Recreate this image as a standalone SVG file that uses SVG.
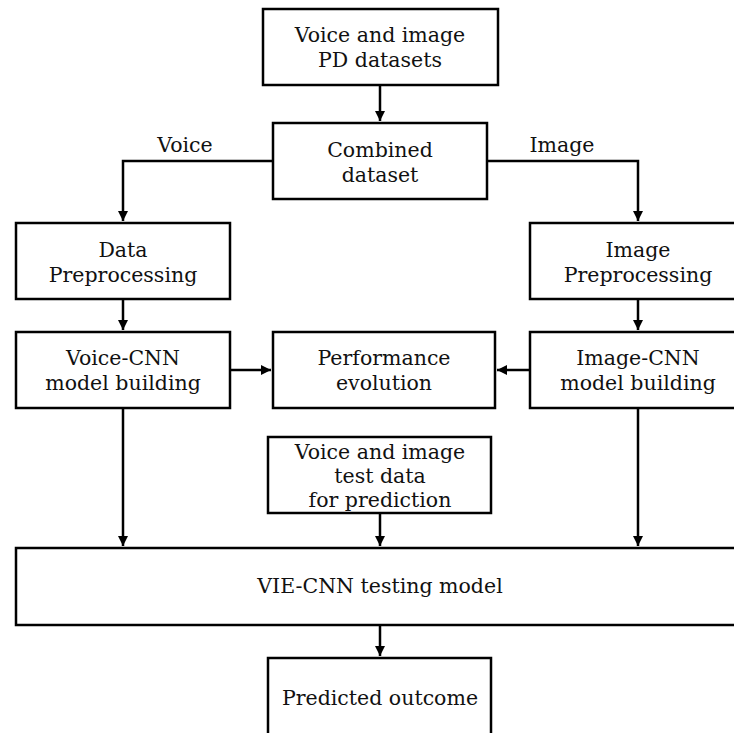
<svg xmlns="http://www.w3.org/2000/svg" width="734" height="733" viewBox="0 0 734 733">
<style>
.n{fill:#fff;stroke:#000;stroke-width:2.5}
text{font-family:'DejaVu Serif','Liberation Serif',serif;font-size:20.5px;fill:#111;text-anchor:middle}
.c{fill:none;stroke:#000;stroke-width:2.5}
</style>
<defs>
<marker id="ah" viewBox="0 0 10 10" refX="10" refY="5" markerWidth="4" markerHeight="4" orient="auto" markerUnits="strokeWidth">
<path d="M0,0 L10,5 L0,10 z" fill="#000"/>
</marker>
</defs>
<rect x="0" y="0" width="734" height="733" fill="#fff"/>
<g id="connectors">
<path class="c" d="M380,85 V121" marker-end="url(#ah)"/>
<path class="c" d="M273,161 H123 V221" marker-end="url(#ah)"/>
<path class="c" d="M487,161 H638 V221" marker-end="url(#ah)"/>
<path class="c" d="M123,299 V330" marker-end="url(#ah)"/>
<path class="c" d="M638,299 V330" marker-end="url(#ah)"/>
<path class="c" d="M230,370 H271" marker-end="url(#ah)"/>
<path class="c" d="M530,370 H497" marker-end="url(#ah)"/>
<path class="c" d="M123,408 V546" marker-end="url(#ah)"/>
<path class="c" d="M638,408 V546" marker-end="url(#ah)"/>
<path class="c" d="M380,513 V546" marker-end="url(#ah)"/>
<path class="c" d="M380,625 V656" marker-end="url(#ah)"/>
<text x="185" y="152">Voice</text>
<text x="562" y="152">Image</text>
</g>
<g id="datasets">
<rect class="n" x="263" y="9" width="235" height="76"/>
<text x="380" y="42">Voice and image</text>
<text x="380" y="67">PD datasets</text>
</g>
<g id="combined">
<rect class="n" x="273" y="123" width="214" height="76"/>
<text x="380" y="157">Combined</text>
<text x="380" y="182">dataset</text>
</g>
<g id="dataprep">
<rect class="n" x="16" y="223" width="214" height="76"/>
<text x="123" y="257">Data</text>
<text x="123" y="282">Preprocessing</text>
</g>
<g id="imageprep">
<rect class="n" x="530" y="223" width="215" height="76"/>
<text x="638" y="257">Image</text>
<text x="638" y="282">Preprocessing</text>
</g>
<g id="voicecnn">
<rect class="n" x="16" y="332" width="214" height="76"/>
<text x="123" y="365">Voice-CNN</text>
<text x="123" y="390">model building</text>
</g>
<g id="performance">
<rect class="n" x="273" y="332" width="222" height="76"/>
<text x="384" y="365">Performance</text>
<text x="384" y="390">evolution</text>
</g>
<g id="imagecnn">
<rect class="n" x="530" y="332" width="215" height="76"/>
<text x="638" y="365">Image-CNN</text>
<text x="638" y="390">model building</text>
</g>
<g id="testdata">
<rect class="n" x="268" y="437" width="223" height="76"/>
<text x="380" y="459">Voice and image</text>
<text x="380" y="483">test data</text>
<text x="380" y="507">for prediction</text>
</g>
<g id="viecnn">
<rect class="n" x="16" y="548" width="729" height="77"/>
<text x="380" y="593">VIE-CNN testing model</text>
</g>
<g id="predicted">
<rect class="n" x="268" y="658" width="223" height="90"/>
<text x="380" y="705">Predicted outcome</text>
</g>
</svg>
